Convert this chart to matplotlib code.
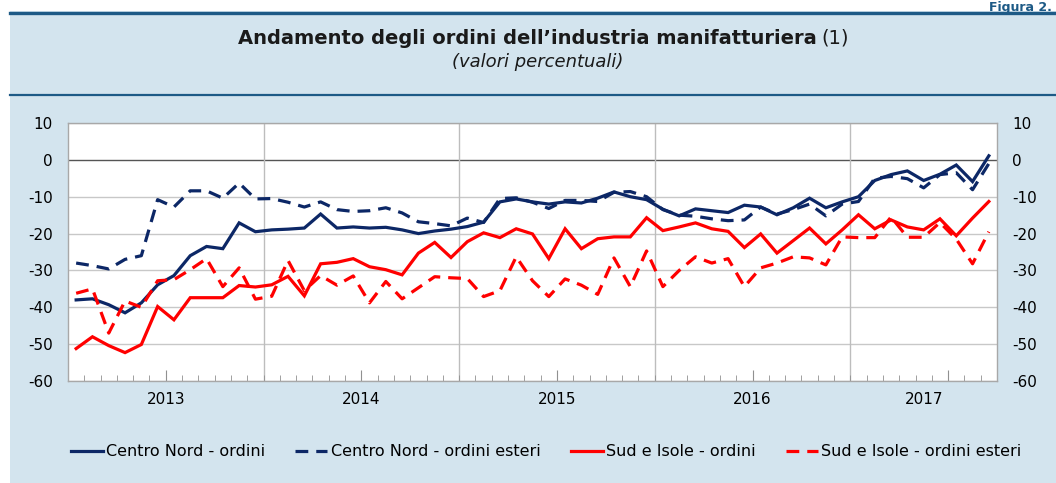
import matplotlib
matplotlib.use("Agg")
import matplotlib.pyplot as plt
from matplotlib.patches import Rectangle
from matplotlib.lines import Line2D
import numpy as np

plt.rcParams['font.family'] = ['DejaVu Sans']

years = ["2013", "2014", "2015", "2016", "2017"]
months_per_year = [12, 12, 12, 12, 9]

cn_ordini = [-38, -37.7, -39.3, -41.5, -38.8, -33.9, -31.4, -26, -23.5, -24.1, -17.1, -19.5,
             -19, -18.8, -18.5, -14.7, -18.5, -18.2, -18.5, -18.3, -19, -20, -19.3, -18.8,
             -18.1, -16.9, -11.4, -10.6, -11.4, -12, -11.4, -11.7, -10.4, -8.7, -10, -10.8,
             -13.4, -15.2, -13.3, -13.8, -14.3, -12.3, -12.8, -14.9, -13, -10.4, -13, -11.4,
             -10, -5.6, -4, -3, -5.6, -3.9, -1.4, -5.9, 1.1]
cn_esteri = [-28, -28.7, -29.6, -27, -26, -10.8, -12.8, -8.4, -8.4, -10.4, -6.3, -10.6,
             -10.5, -11.5, -12.8, -11.4, -13.5, -14, -13.8, -13, -14.4, -16.8, -17.3, -17.9,
             -15.8, -17, -10.5, -10.3, -11.5, -13.2, -11, -11, -11.3, -8.8, -8.6, -10,
             -13.5, -15, -15.3, -16, -16.5, -16.3, -12.8, -14.7, -13.5, -12, -15.2, -12,
             -11.3, -5, -4.5, -5.1, -7.6, -4, -3.5, -8.1, -1]
sud_ordini = [-51.2, -48, -50.4, -52.3, -50.1, -39.8, -43.4, -37.4, -37.4, -37.4, -34.1, -34.5,
              -33.9, -31.6, -36.9, -28.2, -27.8, -26.8, -29, -29.8, -31.2, -25.3, -22.4, -26.5,
              -22.2, -19.8, -21.1, -18.7, -20.1, -26.8, -18.7, -24.1, -21.4, -20.9, -20.9, -15.7,
              -19.2, -18.2, -17.1, -18.7, -19.4, -23.8, -20.1, -25.3, -21.9, -18.5, -22.8, -19,
              -14.9, -18.7, -16.3, -18.2, -19, -16, -20.6, -15.8, -11.3]
sud_esteri = [-36.2, -35, -47, -38.3, -40, -32.8, -32.5, -29.8, -26.8, -34.4, -29.3, -37.8,
              -37, -27.3, -35.5, -31.4, -34, -31.5, -38.8, -33, -37.7, -34.7, -31.7, -32,
              -32.2, -37.1, -35.5, -26.3, -32.8, -37.1, -32.3, -34, -36.5, -26.6, -34.4, -24.7,
              -34.4, -30, -26.3, -28, -26.8, -34.4, -29.3, -28, -26.3, -26.6, -28.5, -20.9,
              -21.1, -21.1, -15.5, -21, -21, -17, -21.5, -28.2, -19.5]

series_labels = ["Centro Nord - ordini", "Centro Nord - ordini esteri",
                 "Sud e Isole - ordini", "Sud e Isole - ordini esteri"]
yticks = [10, 0, -10, -20, -30, -40, -50, -60]

NAVY = '#0c2766'
RED = '#ff0000'
BG = '#d3e4ee'
TEAL = '#1d5a86'

W, H = 1056, 483
fig = plt.figure(figsize=(W / 100, H / 100), dpi=100)
fig.patch.set_facecolor(BG)

# white margins and separator lines
fig.patches.append(Rectangle((0, 1 - 11 / H), 1, 11 / H, transform=fig.transFigure,
                             facecolor='white', edgecolor='none', zorder=0))
fig.patches.append(Rectangle((0, 0), 10 / W, 1, transform=fig.transFigure,
                             facecolor='white', edgecolor='none', zorder=0))
fig.lines.append(Line2D([10 / W, 1], [1 - 12.5 / H] * 2, transform=fig.transFigure,
                        color=TEAL, lw=2.4))
fig.lines.append(Line2D([10 / W, 1], [1 - 95 / H] * 2, transform=fig.transFigure,
                        color=TEAL, lw=1.6))
fig.text(1052 / W, 1 - 1 / H, "Figura 2.", color=TEAL, fontsize=9, fontweight='bold',
         ha='right', va='top')

L, R, T, B = 68, 997, 123, 381
ax = fig.add_axes([L / W, 1 - B / H, (R - L) / W, (B - T) / H])
ax.set_facecolor('white')

n = sum(months_per_year)
x = np.arange(n)

ax.plot(x, cn_ordini, color=NAVY, lw=2.3, label=series_labels[0], solid_joinstyle='miter')
ax.plot(x, cn_esteri, color=NAVY, lw=2.3, dashes=(4, 2.5), label=series_labels[1])
ax.plot(x, sud_ordini, color=RED, lw=2.3, label=series_labels[2], solid_joinstyle='miter')
ax.plot(x, sud_esteri, color=RED, lw=2.3, dashes=(4, 2.5), label=series_labels[3])

ax.set_xlim(-0.5, n - 0.5)
ax.set_ylim(-60, 10)

for yv in yticks:
    if yv == 0:
        ax.axhline(yv, color='#555555', lw=1.0, zorder=1)
    else:
        ax.axhline(yv, color='#c8c8c8', lw=1.0, zorder=1)

bounds = np.cumsum(months_per_year)[:-1] - 0.5
for b in bounds:
    ax.axvline(b, color='#bdbdbd', lw=1.0, zorder=1)

ax.set_yticks(yticks)
ax.set_yticklabels([str(v) for v in yticks])
ax.tick_params(axis='y', length=0, labelsize=11, labelleft=True, labelright=True, pad=11)

ax.set_xticks(np.arange(0.5, n - 0.5, 1), minor=True)
starts = np.concatenate([[0], np.cumsum(months_per_year)[:-1]])
mids = [s + 5.5 for s in starts]
ax.set_xticks(mids)
ax.set_xticklabels([])
ax.tick_params(axis='x', which='minor', direction='in', length=4, color='#909090')
ax.tick_params(axis='x', which='major', direction='in', length=8, color='#909090')

for s, m, yr in zip(starts, months_per_year, years):
    ax.text(s - 0.5 + m / 2, -19 / (B - T), yr, transform=ax.get_xaxis_transform(),
            ha='center', va='center', fontsize=11)

for sp in ax.spines.values():
    sp.set_color('#a8a8a8')
    sp.set_linewidth(1.0)

# title
renderer = fig.canvas.get_renderer()
t1 = fig.text(527 / W, 1 - 38 / H, "Andamento degli ordini dell\u2019industria manifatturiera",
              fontsize=14, fontweight='bold', ha='center', va='center', color='#1a1a1a')
bb = t1.get_window_extent(renderer=renderer)
fig.text((bb.x1 + 5) / W, 1 - 38 / H, "(1)", fontsize=14, ha='left', va='center',
         color='#1a1a1a')
fig.text(538 / W, 1 - 62 / H, "(valori percentuali)", fontsize=13, style='italic',
         ha='center', va='center', color='#1a1a1a')

fig.legend(loc='center', bbox_to_anchor=(546 / W, 1 - 452 / H), ncol=4, frameon=False,
           fontsize=11.5, handlelength=2.0, handletextpad=0.2, columnspacing=1.9)

fig.savefig("out.png", dpi=100, facecolor=fig.get_facecolor())
